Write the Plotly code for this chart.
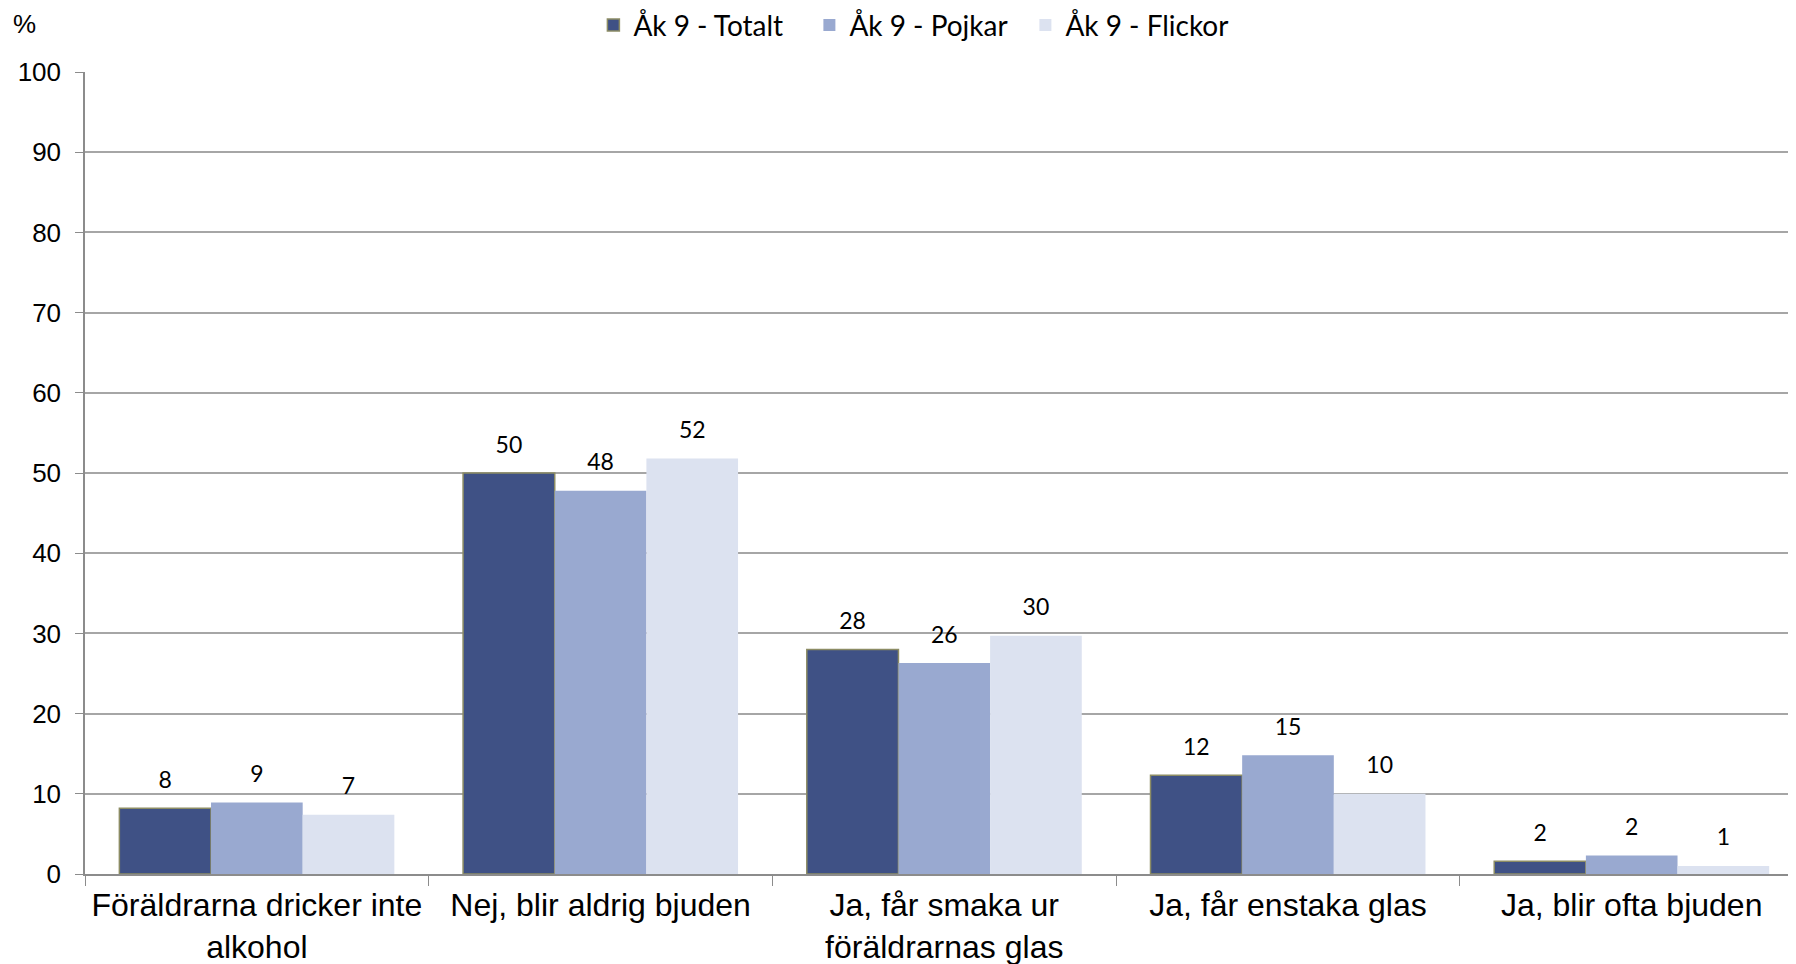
import plotly.graph_objects as go

categories = [
    "Föräldrarna dricker inte<br>alkohol",
    "Nej, blir aldrig bjuden",
    "Ja, får smaka ur<br>föräldrarnas glas",
    "Ja, får enstaka glas",
    "Ja, blir ofta bjuden",
]
series_names = ["Åk 9 - Totalt", "Åk 9 - Pojkar", "Åk 9 - Flickor"]

totalt = [8.2, 50.0, 28.0, 12.3, 1.6]
pojkar = [8.9, 47.8, 26.3, 14.8, 2.3]
flickor = [7.4, 51.8, 29.7, 10.0, 1.0]

totalt_labels = ["8", "50", "28", "12", "2"]
pojkar_labels = ["9", "48", "26", "15", "2"]
flickor_labels = ["7", "52", "30", "10", "1"]

y_ticks = [0, 10, 20, 30, 40, 50, 60, 70, 80, 90, 100]

colors = ["#3F5185", "#99A9D0", "#DCE2F0"]
GRID = "#A6A6A6"
AXIS = "#8C8C8C"

fig = go.Figure()
values = [totalt, pojkar, flickor]
labels = [totalt_labels, pojkar_labels, flickor_labels]

for i, (name, vals) in enumerate(zip(series_names, values)):
    fig.add_trace(go.Bar(
        x=categories,
        y=vals,
        name=name,
        offsetgroup=str(i),
        marker=dict(
            color=colors[i],
            line=dict(color="#8C8C64" if i == 0 else colors[i], width=1.5 if i == 0 else 0),
        ),
        hoverinfo="skip",
    ))

# value labels, grouped like the bars
for i, (vals, labs) in enumerate(zip(values, labels)):
    fig.add_trace(go.Scatter(
        x=categories,
        y=vals,
        text=labs,
        mode="markers+text",
        textposition="top center",
        marker=dict(size=22, color="rgba(0,0,0,0)"),
        textfont=dict(family="Lato, sans-serif", size=23, color="#000000"),
        offsetgroup=str(i),
        showlegend=False,
        hoverinfo="skip",
        cliponaxis=False,
    ))

# the page body has an 8px margin, so the figure is 8px smaller than the window
fig.update_layout(
    width=1788,
    height=956,
    barmode="group",
    scattermode="group",
    bargap=0.2,
    bargroupgap=0,
    scattergap=0.2,
    plot_bgcolor="#FFFFFF",
    paper_bgcolor="#FFFFFF",
    margin=dict(l=77, r=0, t=64, b=90),
    legend=dict(
        orientation="h",
        x=0.3274, xref="container", xanchor="left",
        y=0.982, yref="container", yanchor="middle",
        font=dict(family="Lato, sans-serif", size=28, color="#000000"),
        itemwidth=30,
        entrywidth=171,
        entrywidthmode="pixels",
        traceorder="normal",
    ),
    annotations=[dict(
        text="%", xref="paper", yref="paper", x=0, y=1,
        xanchor="right", yanchor="bottom", xshift=-47, yshift=31,
        showarrow=False, font=dict(family="Arial", size=26, color="#000000"),
    )],
)

fig.update_xaxes(
    range=[-0.5, 4.478],
    tickson="boundaries",
    ticks="outside",
    ticklen=10,
    tickcolor=AXIS,
    showline=True,
    linecolor=AXIS,
    linewidth=1.5,
    showgrid=False,
    automargin=False,
    ticklabelstandoff=2,
    tickfont=dict(family="Arial", size=32, color="#000000"),
)
fig.update_yaxes(
    range=[0, 100],
    tickvals=y_ticks,
    ticks="outside",
    ticklen=8,
    tickcolor=AXIS,
    showline=True,
    linecolor=AXIS,
    linewidth=1.5,
    showgrid=True,
    gridcolor=GRID,
    gridwidth=1.5,
    zeroline=False,
    automargin=False,
    ticklabelstandoff=9,
    tickfont=dict(family="Arial", size=26, color="#000000"),
)

fig.write_html("out.html")
